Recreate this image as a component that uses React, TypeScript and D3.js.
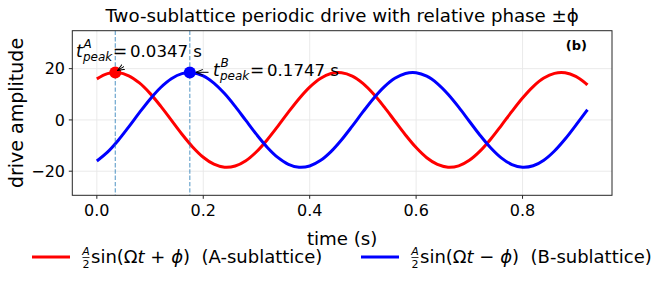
import React from 'react';
import * as d3 from 'd3';

const times = [
  0, 0.02, 0.04, 0.06, 0.08, 0.1, 0.12, 0.14, 0.16, 0.18, 0.2, 0.22, 0.24, 0.26, 0.28, 0.3,
  0.32, 0.34, 0.36, 0.38, 0.4, 0.42, 0.44, 0.46, 0.48, 0.5, 0.52, 0.54, 0.56, 0.58, 0.6, 0.62,
  0.64, 0.66, 0.68, 0.7, 0.72, 0.74, 0.76, 0.78, 0.8, 0.82, 0.84, 0.86, 0.88, 0.9, 0.92, 0.922,
];
const sublatticeA = [
  16.02, 18.04, 18.45, 17.21, 14.43, 10.36, 5.37, -0.1, -5.57, -10.53, -14.56, -17.28, -18.46,
  -17.99, -15.92, -12.42, -7.81, -2.51, 3.02, 8.28, 12.8, 16.18, 18.11, 18.42, 17.09, 14.23,
  10.09, 5.07, -0.41, -5.86, -10.79, -14.74, -17.37, -18.47, -17.93, -15.76, -12.19, -7.53,
  -2.2, 3.33, 8.56, 13.02, 16.32, 18.17, 18.39, 16.96, 14.03, 13.66,
];
const sublatticeB = [
  -16.02, -12.57, -8.0, -2.71, 2.82, 8.09, 12.65, 16.07, 18.06, 18.44, 17.17, 14.36, 10.27,
  5.27, -0.21, -5.66, -10.62, -14.62, -17.32, -18.47, -17.97, -15.87, -12.35, -7.72, -2.41,
  3.12, 8.37, 12.88, 16.23, 18.13, 18.41, 17.05, 14.17, 10.01, 4.97, -0.52, -5.96, -10.87,
  -14.81, -17.42, -18.48, -17.89, -15.7, -12.11, -7.44, -2.1, 3.43, 3.97,
];
const peakTimes = [0.0347, 0.1747];
const peakValue = 18.5;
const peakLabels = ['0.0347', '0.1747'];
const xTicks = [0, 0.2, 0.4, 0.6, 0.8];
const yTicks = [-20, 0, 20];

const W = 665;
const H = 284;
const plot = { left: 72.3, right: 612, top: 30.7, bottom: 195.3 };
const FONT = 'DejaVu Sans, sans-serif';

export default function App() {
  const x = d3.scaleLinear().domain([-0.0461, 0.9681]).range([plot.left, plot.right]);
  const y = d3.scaleLinear().domain([-29.4, 34.8]).range([plot.bottom, plot.top]);

  const line = d3
    .line<number>()
    .x((_, i) => x(times[i]))
    .y((d) => y(d))
    .curve(d3.curveCatmullRom);

  const fmtX = (v: number) => v.toFixed(1);
  const fmtY = (v: number) => (v < 0 ? '\u2212' + Math.abs(v) : String(v));

  const px = peakTimes.map((t) => x(t));
  const py = y(peakValue);

  return (
    <svg width={W} height={H} style={{ position: 'absolute', left: 0, top: 0, fontFamily: FONT }}>
      <defs>
        <marker id="arrowhead" viewBox="0 0 10 10" refX="10" refY="5" markerWidth="7" markerHeight="7" orient="auto">
          <path d="M0,1 L10,5 L0,9" fill="none" stroke="#000" strokeWidth="1.4" />
        </marker>
      </defs>
      <rect width={W} height={H} fill="#fff" />

      {/* title */}
      <text x={(plot.left + plot.right) / 2} y={22} textAnchor="middle" fontSize={18.2} fill="#000">
        Two-sublattice periodic drive with relative phase ±ϕ
      </text>

      {/* grid */}
      {xTicks.map((t) => (
        <line key={'gx' + t} x1={x(t)} x2={x(t)} y1={plot.top} y2={plot.bottom} stroke="#e8e8e8" strokeWidth={0.9} />
      ))}
      {yTicks.map((t) => (
        <line key={'gy' + t} x1={plot.left} x2={plot.right} y1={y(t)} y2={y(t)} stroke="#e8e8e8" strokeWidth={0.9} />
      ))}

      {/* curves */}
      <path d={line(sublatticeA) || ''} fill="none" stroke="#ff0000" strokeWidth={3} />
      <path d={line(sublatticeB) || ''} fill="none" stroke="#0000ff" strokeWidth={3} />

      {/* peak markers and guides */}
      {px.map((xx, i) => (
        <line key={'pk' + i} x1={xx} x2={xx} y1={plot.top} y2={plot.bottom} stroke="#1f77b4" strokeOpacity={0.65} strokeWidth={1.2} strokeDasharray="4.4,1.9" />
      ))}
      <circle cx={px[0]} cy={py} r={6} fill="#ff0000" />
      <circle cx={px[1]} cy={py} r={6} fill="#0000ff" />

      {/* annotations */}
      <line x1={124} y1={66.5} x2={117.5} y2={70.5} stroke="#000" strokeWidth={1} markerEnd="url(#arrowhead)" />
      <line x1={208.5} y1={72.3} x2={px[1] + 6} y2={72.3} stroke="#000" strokeWidth={1} markerEnd="url(#arrowhead)" />
      {[
        { x0: 76, base: 56.7, sup: 'A', val: peakLabels[0] },
        { x0: 213, base: 75.7, sup: 'B', val: peakLabels[1] },
      ].map((a) => (
        <g key={a.sup} fill="#000">
          <text x={a.x0} y={a.base} fontSize={17} fontStyle="italic">t</text>
          <text x={a.x0 + 7.5} y={a.base - 8.5} fontSize={12} fontStyle="italic">{a.sup}</text>
          <text x={a.x0 + 7} y={a.base + 4.5} fontSize={12} fontStyle="italic">peak</text>
          <text x={a.x0 + 37} y={a.base} fontSize={17}>=</text>
          <text x={a.x0 + 54} y={a.base} fontSize={16.6} style={{ whiteSpace: 'pre' }}>{a.val + ' s'}</text>
        </g>
      ))}

      <text x={587} y={50} textAnchor="end" fontSize={13} fontWeight="bold" fill="#000">(b)</text>

      {/* frame */}
      <rect x={plot.left} y={plot.top} width={plot.right - plot.left} height={plot.bottom - plot.top} fill="none" stroke="#262626" strokeWidth={1} />

      {/* axes ticks */}
      {xTicks.map((t) => (
        <g key={'xt' + t}>
          <line x1={x(t)} x2={x(t)} y1={plot.bottom} y2={plot.bottom + 3.5} stroke="#262626" strokeWidth={1} />
          <text x={x(t)} y={215.7} textAnchor="middle" fontSize={16} fill="#000">{fmtX(t)}</text>
        </g>
      ))}
      {yTicks.map((t) => (
        <g key={'yt' + t}>
          <line x1={plot.left - 3.5} x2={plot.left} y1={y(t)} y2={y(t)} stroke="#262626" strokeWidth={1} />
          <text x={65} y={y(t)} dy="0.36em" textAnchor="end" fontSize={16} fill="#000">{fmtY(t)}</text>
        </g>
      ))}

      {/* axis labels */}
      <text x={(plot.left + plot.right) / 2} y={245} textAnchor="middle" fontSize={18.2} fill="#000">time (s)</text>
      <text transform={`translate(22.5,${(plot.top + plot.bottom) / 2}) rotate(-90)`} textAnchor="middle" fontSize={19} fill="#000">drive amplitude</text>

      {/* legend */}
      {[
        { lx: 32, color: '#ff0000', sign: '+', name: '(A-sublattice)' },
        { lx: 361, color: '#0000ff', sign: '\u2212', name: '(B-sublattice)' },
      ].map((e) => (
        <g key={e.name} fill="#000">
          <line x1={e.lx} x2={e.lx + 38} y1={257} y2={257} stroke={e.color} strokeWidth={3} />
          <text x={e.lx + 54} y={255} textAnchor="middle" fontSize={11} fontStyle="italic">A</text>
          <line x1={e.lx + 50.5} x2={e.lx + 57.5} y1={257.5} y2={257.5} stroke="#000" strokeWidth={0.8} />
          <text x={e.lx + 54} y={267.5} textAnchor="middle" fontSize={11}>2</text>
          <text x={e.lx + 59} y={263} fontSize={18} style={{ whiteSpace: 'pre' }}>
            <tspan>sin(Ω</tspan>
            <tspan fontStyle="italic">t</tspan>
            <tspan>{' ' + e.sign + ' '}</tspan>
            <tspan fontStyle="italic">ϕ</tspan>
            <tspan>{')  ' + e.name}</tspan>
          </text>
        </g>
      ))}
    </svg>
  );
}
